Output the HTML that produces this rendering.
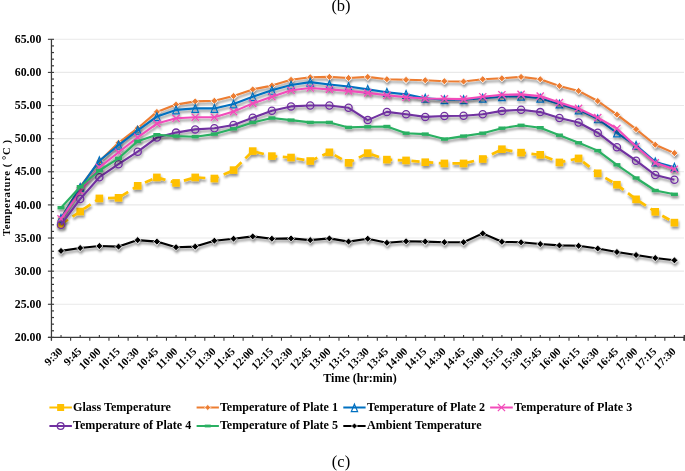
<!DOCTYPE html><html><head><meta charset="utf-8"><style>html,body{margin:0;padding:0;background:#fff;}svg{display:block;will-change:transform;}text{font-family:"Liberation Serif",serif;}</style></head><body>
<svg width="685" height="471" viewBox="0 0 685 471">
<defs><filter id="sh" x="-5%" y="-20%" width="110%" height="140%"><feDropShadow dx="0.8" dy="2.4" stdDeviation="1.3" flood-color="#000" flood-opacity="0.42"/></filter></defs>
<rect width="685" height="471" fill="#fff"/>
<text x="341" y="11" font-size="16.5" text-anchor="middle" fill="#000">(b)</text>
<line x1="51.45" y1="39.3" x2="684" y2="39.3" stroke="#E9E9E9" stroke-width="1.1"/>
<line x1="51.45" y1="72.42" x2="684" y2="72.42" stroke="#E9E9E9" stroke-width="1.1"/>
<line x1="51.45" y1="105.54" x2="684" y2="105.54" stroke="#E9E9E9" stroke-width="1.1"/>
<line x1="51.45" y1="138.67" x2="684" y2="138.67" stroke="#E9E9E9" stroke-width="1.1"/>
<line x1="51.45" y1="171.79" x2="684" y2="171.79" stroke="#E9E9E9" stroke-width="1.1"/>
<line x1="51.45" y1="204.91" x2="684" y2="204.91" stroke="#E9E9E9" stroke-width="1.1"/>
<line x1="51.45" y1="238.03" x2="684" y2="238.03" stroke="#E9E9E9" stroke-width="1.1"/>
<line x1="51.45" y1="271.16" x2="684" y2="271.16" stroke="#E9E9E9" stroke-width="1.1"/>
<line x1="51.45" y1="304.28" x2="684" y2="304.28" stroke="#E9E9E9" stroke-width="1.1"/>
<line x1="51.45" y1="39.3" x2="51.45" y2="340.6" stroke="#3a3a3a" stroke-width="1.25"/>
<line x1="47.9" y1="39.3" x2="54" y2="39.3" stroke="#3a3a3a" stroke-width="1.1"/>
<line x1="47.9" y1="72.42" x2="54" y2="72.42" stroke="#3a3a3a" stroke-width="1.1"/>
<line x1="47.9" y1="105.54" x2="54" y2="105.54" stroke="#3a3a3a" stroke-width="1.1"/>
<line x1="47.9" y1="138.67" x2="54" y2="138.67" stroke="#3a3a3a" stroke-width="1.1"/>
<line x1="47.9" y1="171.79" x2="54" y2="171.79" stroke="#3a3a3a" stroke-width="1.1"/>
<line x1="47.9" y1="204.91" x2="54" y2="204.91" stroke="#3a3a3a" stroke-width="1.1"/>
<line x1="47.9" y1="238.03" x2="54" y2="238.03" stroke="#3a3a3a" stroke-width="1.1"/>
<line x1="47.9" y1="271.16" x2="54" y2="271.16" stroke="#3a3a3a" stroke-width="1.1"/>
<line x1="47.9" y1="304.28" x2="54" y2="304.28" stroke="#3a3a3a" stroke-width="1.1"/>
<line x1="47.9" y1="337.4" x2="54" y2="337.4" stroke="#3a3a3a" stroke-width="1.1"/>
<line x1="51.45" y1="45.92" x2="54" y2="45.92" stroke="#3a3a3a" stroke-width="1.2"/>
<line x1="51.45" y1="52.55" x2="54" y2="52.55" stroke="#3a3a3a" stroke-width="1.2"/>
<line x1="51.45" y1="59.17" x2="54" y2="59.17" stroke="#3a3a3a" stroke-width="1.2"/>
<line x1="51.45" y1="65.8" x2="54" y2="65.8" stroke="#3a3a3a" stroke-width="1.2"/>
<line x1="51.45" y1="79.05" x2="54" y2="79.05" stroke="#3a3a3a" stroke-width="1.2"/>
<line x1="51.45" y1="85.67" x2="54" y2="85.67" stroke="#3a3a3a" stroke-width="1.2"/>
<line x1="51.45" y1="92.3" x2="54" y2="92.3" stroke="#3a3a3a" stroke-width="1.2"/>
<line x1="51.45" y1="98.92" x2="54" y2="98.92" stroke="#3a3a3a" stroke-width="1.2"/>
<line x1="51.45" y1="112.17" x2="54" y2="112.17" stroke="#3a3a3a" stroke-width="1.2"/>
<line x1="51.45" y1="118.79" x2="54" y2="118.79" stroke="#3a3a3a" stroke-width="1.2"/>
<line x1="51.45" y1="125.42" x2="54" y2="125.42" stroke="#3a3a3a" stroke-width="1.2"/>
<line x1="51.45" y1="132.04" x2="54" y2="132.04" stroke="#3a3a3a" stroke-width="1.2"/>
<line x1="51.45" y1="145.29" x2="54" y2="145.29" stroke="#3a3a3a" stroke-width="1.2"/>
<line x1="51.45" y1="151.92" x2="54" y2="151.92" stroke="#3a3a3a" stroke-width="1.2"/>
<line x1="51.45" y1="158.54" x2="54" y2="158.54" stroke="#3a3a3a" stroke-width="1.2"/>
<line x1="51.45" y1="165.16" x2="54" y2="165.16" stroke="#3a3a3a" stroke-width="1.2"/>
<line x1="51.45" y1="178.41" x2="54" y2="178.41" stroke="#3a3a3a" stroke-width="1.2"/>
<line x1="51.45" y1="185.04" x2="54" y2="185.04" stroke="#3a3a3a" stroke-width="1.2"/>
<line x1="51.45" y1="191.66" x2="54" y2="191.66" stroke="#3a3a3a" stroke-width="1.2"/>
<line x1="51.45" y1="198.29" x2="54" y2="198.29" stroke="#3a3a3a" stroke-width="1.2"/>
<line x1="51.45" y1="211.54" x2="54" y2="211.54" stroke="#3a3a3a" stroke-width="1.2"/>
<line x1="51.45" y1="218.16" x2="54" y2="218.16" stroke="#3a3a3a" stroke-width="1.2"/>
<line x1="51.45" y1="224.78" x2="54" y2="224.78" stroke="#3a3a3a" stroke-width="1.2"/>
<line x1="51.45" y1="231.41" x2="54" y2="231.41" stroke="#3a3a3a" stroke-width="1.2"/>
<line x1="51.45" y1="244.66" x2="54" y2="244.66" stroke="#3a3a3a" stroke-width="1.2"/>
<line x1="51.45" y1="251.28" x2="54" y2="251.28" stroke="#3a3a3a" stroke-width="1.2"/>
<line x1="51.45" y1="257.91" x2="54" y2="257.91" stroke="#3a3a3a" stroke-width="1.2"/>
<line x1="51.45" y1="264.53" x2="54" y2="264.53" stroke="#3a3a3a" stroke-width="1.2"/>
<line x1="51.45" y1="277.78" x2="54" y2="277.78" stroke="#3a3a3a" stroke-width="1.2"/>
<line x1="51.45" y1="284.4" x2="54" y2="284.4" stroke="#3a3a3a" stroke-width="1.2"/>
<line x1="51.45" y1="291.03" x2="54" y2="291.03" stroke="#3a3a3a" stroke-width="1.2"/>
<line x1="51.45" y1="297.65" x2="54" y2="297.65" stroke="#3a3a3a" stroke-width="1.2"/>
<line x1="51.45" y1="310.9" x2="54" y2="310.9" stroke="#3a3a3a" stroke-width="1.2"/>
<line x1="51.45" y1="317.53" x2="54" y2="317.53" stroke="#3a3a3a" stroke-width="1.2"/>
<line x1="51.45" y1="324.15" x2="54" y2="324.15" stroke="#3a3a3a" stroke-width="1.2"/>
<line x1="51.45" y1="330.78" x2="54" y2="330.78" stroke="#3a3a3a" stroke-width="1.2"/>
<line x1="47.95" y1="337.4" x2="685" y2="337.4" stroke="#3a3a3a" stroke-width="1.25"/>
<line x1="51.45" y1="337.4" x2="51.45" y2="340.7" stroke="#3a3a3a" stroke-width="1.1"/>
<line x1="70.62" y1="337.4" x2="70.62" y2="340.7" stroke="#3a3a3a" stroke-width="1.1"/>
<line x1="89.79" y1="337.4" x2="89.79" y2="340.7" stroke="#3a3a3a" stroke-width="1.1"/>
<line x1="108.95" y1="337.4" x2="108.95" y2="340.7" stroke="#3a3a3a" stroke-width="1.1"/>
<line x1="128.12" y1="337.4" x2="128.12" y2="340.7" stroke="#3a3a3a" stroke-width="1.1"/>
<line x1="147.29" y1="337.4" x2="147.29" y2="340.7" stroke="#3a3a3a" stroke-width="1.1"/>
<line x1="166.46" y1="337.4" x2="166.46" y2="340.7" stroke="#3a3a3a" stroke-width="1.1"/>
<line x1="185.63" y1="337.4" x2="185.63" y2="340.7" stroke="#3a3a3a" stroke-width="1.1"/>
<line x1="204.8" y1="337.4" x2="204.8" y2="340.7" stroke="#3a3a3a" stroke-width="1.1"/>
<line x1="223.96" y1="337.4" x2="223.96" y2="340.7" stroke="#3a3a3a" stroke-width="1.1"/>
<line x1="243.13" y1="337.4" x2="243.13" y2="340.7" stroke="#3a3a3a" stroke-width="1.1"/>
<line x1="262.3" y1="337.4" x2="262.3" y2="340.7" stroke="#3a3a3a" stroke-width="1.1"/>
<line x1="281.47" y1="337.4" x2="281.47" y2="340.7" stroke="#3a3a3a" stroke-width="1.1"/>
<line x1="300.64" y1="337.4" x2="300.64" y2="340.7" stroke="#3a3a3a" stroke-width="1.1"/>
<line x1="319.8" y1="337.4" x2="319.8" y2="340.7" stroke="#3a3a3a" stroke-width="1.1"/>
<line x1="338.97" y1="337.4" x2="338.97" y2="340.7" stroke="#3a3a3a" stroke-width="1.1"/>
<line x1="358.14" y1="337.4" x2="358.14" y2="340.7" stroke="#3a3a3a" stroke-width="1.1"/>
<line x1="377.31" y1="337.4" x2="377.31" y2="340.7" stroke="#3a3a3a" stroke-width="1.1"/>
<line x1="396.48" y1="337.4" x2="396.48" y2="340.7" stroke="#3a3a3a" stroke-width="1.1"/>
<line x1="415.65" y1="337.4" x2="415.65" y2="340.7" stroke="#3a3a3a" stroke-width="1.1"/>
<line x1="434.81" y1="337.4" x2="434.81" y2="340.7" stroke="#3a3a3a" stroke-width="1.1"/>
<line x1="453.98" y1="337.4" x2="453.98" y2="340.7" stroke="#3a3a3a" stroke-width="1.1"/>
<line x1="473.15" y1="337.4" x2="473.15" y2="340.7" stroke="#3a3a3a" stroke-width="1.1"/>
<line x1="492.32" y1="337.4" x2="492.32" y2="340.7" stroke="#3a3a3a" stroke-width="1.1"/>
<line x1="511.49" y1="337.4" x2="511.49" y2="340.7" stroke="#3a3a3a" stroke-width="1.1"/>
<line x1="530.65" y1="337.4" x2="530.65" y2="340.7" stroke="#3a3a3a" stroke-width="1.1"/>
<line x1="549.82" y1="337.4" x2="549.82" y2="340.7" stroke="#3a3a3a" stroke-width="1.1"/>
<line x1="568.99" y1="337.4" x2="568.99" y2="340.7" stroke="#3a3a3a" stroke-width="1.1"/>
<line x1="588.16" y1="337.4" x2="588.16" y2="340.7" stroke="#3a3a3a" stroke-width="1.1"/>
<line x1="607.33" y1="337.4" x2="607.33" y2="340.7" stroke="#3a3a3a" stroke-width="1.1"/>
<line x1="626.5" y1="337.4" x2="626.5" y2="340.7" stroke="#3a3a3a" stroke-width="1.1"/>
<line x1="645.66" y1="337.4" x2="645.66" y2="340.7" stroke="#3a3a3a" stroke-width="1.1"/>
<line x1="664.83" y1="337.4" x2="664.83" y2="340.7" stroke="#3a3a3a" stroke-width="1.1"/>
<line x1="684" y1="337.4" x2="684" y2="340.7" stroke="#3a3a3a" stroke-width="1.1"/>
<line x1="61.03" y1="334.9" x2="61.03" y2="337.4" stroke="#3a3a3a" stroke-width="1.1"/>
<line x1="80.2" y1="334.9" x2="80.2" y2="337.4" stroke="#3a3a3a" stroke-width="1.1"/>
<line x1="99.37" y1="334.9" x2="99.37" y2="337.4" stroke="#3a3a3a" stroke-width="1.1"/>
<line x1="118.54" y1="334.9" x2="118.54" y2="337.4" stroke="#3a3a3a" stroke-width="1.1"/>
<line x1="137.71" y1="334.9" x2="137.71" y2="337.4" stroke="#3a3a3a" stroke-width="1.1"/>
<line x1="156.88" y1="334.9" x2="156.88" y2="337.4" stroke="#3a3a3a" stroke-width="1.1"/>
<line x1="176.04" y1="334.9" x2="176.04" y2="337.4" stroke="#3a3a3a" stroke-width="1.1"/>
<line x1="195.21" y1="334.9" x2="195.21" y2="337.4" stroke="#3a3a3a" stroke-width="1.1"/>
<line x1="214.38" y1="334.9" x2="214.38" y2="337.4" stroke="#3a3a3a" stroke-width="1.1"/>
<line x1="233.55" y1="334.9" x2="233.55" y2="337.4" stroke="#3a3a3a" stroke-width="1.1"/>
<line x1="252.72" y1="334.9" x2="252.72" y2="337.4" stroke="#3a3a3a" stroke-width="1.1"/>
<line x1="271.88" y1="334.9" x2="271.88" y2="337.4" stroke="#3a3a3a" stroke-width="1.1"/>
<line x1="291.05" y1="334.9" x2="291.05" y2="337.4" stroke="#3a3a3a" stroke-width="1.1"/>
<line x1="310.22" y1="334.9" x2="310.22" y2="337.4" stroke="#3a3a3a" stroke-width="1.1"/>
<line x1="329.39" y1="334.9" x2="329.39" y2="337.4" stroke="#3a3a3a" stroke-width="1.1"/>
<line x1="348.56" y1="334.9" x2="348.56" y2="337.4" stroke="#3a3a3a" stroke-width="1.1"/>
<line x1="367.72" y1="334.9" x2="367.72" y2="337.4" stroke="#3a3a3a" stroke-width="1.1"/>
<line x1="386.89" y1="334.9" x2="386.89" y2="337.4" stroke="#3a3a3a" stroke-width="1.1"/>
<line x1="406.06" y1="334.9" x2="406.06" y2="337.4" stroke="#3a3a3a" stroke-width="1.1"/>
<line x1="425.23" y1="334.9" x2="425.23" y2="337.4" stroke="#3a3a3a" stroke-width="1.1"/>
<line x1="444.4" y1="334.9" x2="444.4" y2="337.4" stroke="#3a3a3a" stroke-width="1.1"/>
<line x1="463.57" y1="334.9" x2="463.57" y2="337.4" stroke="#3a3a3a" stroke-width="1.1"/>
<line x1="482.73" y1="334.9" x2="482.73" y2="337.4" stroke="#3a3a3a" stroke-width="1.1"/>
<line x1="501.9" y1="334.9" x2="501.9" y2="337.4" stroke="#3a3a3a" stroke-width="1.1"/>
<line x1="521.07" y1="334.9" x2="521.07" y2="337.4" stroke="#3a3a3a" stroke-width="1.1"/>
<line x1="540.24" y1="334.9" x2="540.24" y2="337.4" stroke="#3a3a3a" stroke-width="1.1"/>
<line x1="559.41" y1="334.9" x2="559.41" y2="337.4" stroke="#3a3a3a" stroke-width="1.1"/>
<line x1="578.58" y1="334.9" x2="578.58" y2="337.4" stroke="#3a3a3a" stroke-width="1.1"/>
<line x1="597.74" y1="334.9" x2="597.74" y2="337.4" stroke="#3a3a3a" stroke-width="1.1"/>
<line x1="616.91" y1="334.9" x2="616.91" y2="337.4" stroke="#3a3a3a" stroke-width="1.1"/>
<line x1="636.08" y1="334.9" x2="636.08" y2="337.4" stroke="#3a3a3a" stroke-width="1.1"/>
<line x1="655.25" y1="334.9" x2="655.25" y2="337.4" stroke="#3a3a3a" stroke-width="1.1"/>
<line x1="674.42" y1="334.9" x2="674.42" y2="337.4" stroke="#3a3a3a" stroke-width="1.1"/>
<line x1="684.3" y1="335" x2="684.3" y2="340.8" stroke="#3a3a3a" stroke-width="1.4"/>
<text x="41.3" y="43" font-size="11.8" font-weight="bold" text-anchor="end" fill="#000">65.00</text>
<text x="41.3" y="76.12" font-size="11.8" font-weight="bold" text-anchor="end" fill="#000">60.00</text>
<text x="41.3" y="109.24" font-size="11.8" font-weight="bold" text-anchor="end" fill="#000">55.00</text>
<text x="41.3" y="142.37" font-size="11.8" font-weight="bold" text-anchor="end" fill="#000">50.00</text>
<text x="41.3" y="175.49" font-size="11.8" font-weight="bold" text-anchor="end" fill="#000">45.00</text>
<text x="41.3" y="208.61" font-size="11.8" font-weight="bold" text-anchor="end" fill="#000">40.00</text>
<text x="41.3" y="241.73" font-size="11.8" font-weight="bold" text-anchor="end" fill="#000">35.00</text>
<text x="41.3" y="274.86" font-size="11.8" font-weight="bold" text-anchor="end" fill="#000">30.00</text>
<text x="41.3" y="307.98" font-size="11.8" font-weight="bold" text-anchor="end" fill="#000">25.00</text>
<text x="41.3" y="341.1" font-size="11.8" font-weight="bold" text-anchor="end" fill="#000">20.00</text>
<text transform="translate(63.03 352) rotate(-45)" font-size="11" font-weight="bold" text-anchor="end" fill="#000">9:30</text>
<text transform="translate(82.2 352) rotate(-45)" font-size="11" font-weight="bold" text-anchor="end" fill="#000">9:45</text>
<text transform="translate(101.37 352) rotate(-45)" font-size="11" font-weight="bold" text-anchor="end" fill="#000">10:00</text>
<text transform="translate(120.54 352) rotate(-45)" font-size="11" font-weight="bold" text-anchor="end" fill="#000">10:15</text>
<text transform="translate(139.71 352) rotate(-45)" font-size="11" font-weight="bold" text-anchor="end" fill="#000">10:30</text>
<text transform="translate(158.88 352) rotate(-45)" font-size="11" font-weight="bold" text-anchor="end" fill="#000">10:45</text>
<text transform="translate(178.04 352) rotate(-45)" font-size="11" font-weight="bold" text-anchor="end" fill="#000">11:00</text>
<text transform="translate(197.21 352) rotate(-45)" font-size="11" font-weight="bold" text-anchor="end" fill="#000">11:15</text>
<text transform="translate(216.38 352) rotate(-45)" font-size="11" font-weight="bold" text-anchor="end" fill="#000">11:30</text>
<text transform="translate(235.55 352) rotate(-45)" font-size="11" font-weight="bold" text-anchor="end" fill="#000">11:45</text>
<text transform="translate(254.72 352) rotate(-45)" font-size="11" font-weight="bold" text-anchor="end" fill="#000">12:00</text>
<text transform="translate(273.88 352) rotate(-45)" font-size="11" font-weight="bold" text-anchor="end" fill="#000">12:15</text>
<text transform="translate(293.05 352) rotate(-45)" font-size="11" font-weight="bold" text-anchor="end" fill="#000">12:30</text>
<text transform="translate(312.22 352) rotate(-45)" font-size="11" font-weight="bold" text-anchor="end" fill="#000">12:45</text>
<text transform="translate(331.39 352) rotate(-45)" font-size="11" font-weight="bold" text-anchor="end" fill="#000">13:00</text>
<text transform="translate(350.56 352) rotate(-45)" font-size="11" font-weight="bold" text-anchor="end" fill="#000">13:15</text>
<text transform="translate(369.72 352) rotate(-45)" font-size="11" font-weight="bold" text-anchor="end" fill="#000">13:30</text>
<text transform="translate(388.89 352) rotate(-45)" font-size="11" font-weight="bold" text-anchor="end" fill="#000">13:45</text>
<text transform="translate(408.06 352) rotate(-45)" font-size="11" font-weight="bold" text-anchor="end" fill="#000">14:00</text>
<text transform="translate(427.23 352) rotate(-45)" font-size="11" font-weight="bold" text-anchor="end" fill="#000">14:15</text>
<text transform="translate(446.4 352) rotate(-45)" font-size="11" font-weight="bold" text-anchor="end" fill="#000">14:30</text>
<text transform="translate(465.57 352) rotate(-45)" font-size="11" font-weight="bold" text-anchor="end" fill="#000">14:45</text>
<text transform="translate(484.73 352) rotate(-45)" font-size="11" font-weight="bold" text-anchor="end" fill="#000">15:00</text>
<text transform="translate(503.9 352) rotate(-45)" font-size="11" font-weight="bold" text-anchor="end" fill="#000">15:15</text>
<text transform="translate(523.07 352) rotate(-45)" font-size="11" font-weight="bold" text-anchor="end" fill="#000">15:30</text>
<text transform="translate(542.24 352) rotate(-45)" font-size="11" font-weight="bold" text-anchor="end" fill="#000">15:45</text>
<text transform="translate(561.41 352) rotate(-45)" font-size="11" font-weight="bold" text-anchor="end" fill="#000">16:00</text>
<text transform="translate(580.58 352) rotate(-45)" font-size="11" font-weight="bold" text-anchor="end" fill="#000">16:15</text>
<text transform="translate(599.74 352) rotate(-45)" font-size="11" font-weight="bold" text-anchor="end" fill="#000">16:30</text>
<text transform="translate(618.91 352) rotate(-45)" font-size="11" font-weight="bold" text-anchor="end" fill="#000">16:45</text>
<text transform="translate(638.08 352) rotate(-45)" font-size="11" font-weight="bold" text-anchor="end" fill="#000">17:00</text>
<text transform="translate(657.25 352) rotate(-45)" font-size="11" font-weight="bold" text-anchor="end" fill="#000">17:15</text>
<text transform="translate(676.42 352) rotate(-45)" font-size="11" font-weight="bold" text-anchor="end" fill="#000">17:30</text>
<text x="360" y="381.6" font-size="12" font-weight="bold" text-anchor="middle" fill="#000">Time (hr:min)</text>
<text transform="translate(9.6 188) rotate(-90)" font-size="10.6" textLength="96" lengthAdjust="spacing" font-weight="bold" text-anchor="middle" fill="#000">Temperature ( °C )</text>
<g filter="url(#sh)">
<path d="M61.03 224.1 L80.2 211.5 L99.37 198.4 L118.54 197.8 L137.71 185.8 L156.88 177.4 L176.04 182.9 L195.21 177.4 L214.38 178.5 L233.55 170.1 L252.72 151.1 L271.88 156.1 L291.05 157.5 L310.22 161 L329.39 152.3 L348.56 162.8 L367.72 153.1 L386.89 159.6 L406.06 160.4 L425.23 162.2 L444.4 163.4 L463.57 163.4 L482.73 159 L501.9 149.2 L521.07 152.6 L540.24 154.8 L559.41 162.4 L578.58 158.4 L597.74 173.3 L616.91 184.7 L636.08 199.3 L655.25 211.8 L674.42 222.6" fill="none" stroke="#FFC000" stroke-width="2.7" stroke-linejoin="round" stroke-dasharray="8.2 5.5"/>
<rect x="57.23" y="220.3" width="7.6" height="7.6" fill="#FFC000"/>
<rect x="76.4" y="207.7" width="7.6" height="7.6" fill="#FFC000"/>
<rect x="95.57" y="194.6" width="7.6" height="7.6" fill="#FFC000"/>
<rect x="114.74" y="194" width="7.6" height="7.6" fill="#FFC000"/>
<rect x="133.91" y="182" width="7.6" height="7.6" fill="#FFC000"/>
<rect x="153.07" y="173.6" width="7.6" height="7.6" fill="#FFC000"/>
<rect x="172.24" y="179.1" width="7.6" height="7.6" fill="#FFC000"/>
<rect x="191.41" y="173.6" width="7.6" height="7.6" fill="#FFC000"/>
<rect x="210.58" y="174.7" width="7.6" height="7.6" fill="#FFC000"/>
<rect x="229.75" y="166.3" width="7.6" height="7.6" fill="#FFC000"/>
<rect x="248.92" y="147.3" width="7.6" height="7.6" fill="#FFC000"/>
<rect x="268.08" y="152.3" width="7.6" height="7.6" fill="#FFC000"/>
<rect x="287.25" y="153.7" width="7.6" height="7.6" fill="#FFC000"/>
<rect x="306.42" y="157.2" width="7.6" height="7.6" fill="#FFC000"/>
<rect x="325.59" y="148.5" width="7.6" height="7.6" fill="#FFC000"/>
<rect x="344.76" y="159" width="7.6" height="7.6" fill="#FFC000"/>
<rect x="363.92" y="149.3" width="7.6" height="7.6" fill="#FFC000"/>
<rect x="383.09" y="155.8" width="7.6" height="7.6" fill="#FFC000"/>
<rect x="402.26" y="156.6" width="7.6" height="7.6" fill="#FFC000"/>
<rect x="421.43" y="158.4" width="7.6" height="7.6" fill="#FFC000"/>
<rect x="440.6" y="159.6" width="7.6" height="7.6" fill="#FFC000"/>
<rect x="459.77" y="159.6" width="7.6" height="7.6" fill="#FFC000"/>
<rect x="478.93" y="155.2" width="7.6" height="7.6" fill="#FFC000"/>
<rect x="498.1" y="145.4" width="7.6" height="7.6" fill="#FFC000"/>
<rect x="517.27" y="148.8" width="7.6" height="7.6" fill="#FFC000"/>
<rect x="536.44" y="151" width="7.6" height="7.6" fill="#FFC000"/>
<rect x="555.61" y="158.6" width="7.6" height="7.6" fill="#FFC000"/>
<rect x="574.78" y="154.6" width="7.6" height="7.6" fill="#FFC000"/>
<rect x="593.94" y="169.5" width="7.6" height="7.6" fill="#FFC000"/>
<rect x="613.11" y="180.9" width="7.6" height="7.6" fill="#FFC000"/>
<rect x="632.28" y="195.5" width="7.6" height="7.6" fill="#FFC000"/>
<rect x="651.45" y="208" width="7.6" height="7.6" fill="#FFC000"/>
<rect x="670.62" y="218.8" width="7.6" height="7.6" fill="#FFC000"/>
</g><g filter="url(#sh)">
<path d="M61.03 218 L80.2 187 L99.37 161.2 L118.54 142.8 L137.71 128.2 L156.88 111.9 L176.04 104.6 L195.21 101.4 L214.38 100.8 L233.55 96.1 L252.72 89.4 L271.88 85.6 L291.05 79.8 L310.22 77.2 L329.39 76.9 L348.56 78 L367.72 76.9 L386.89 79.2 L406.06 79.8 L425.23 80.2 L444.4 81.2 L463.57 81.5 L482.73 79.2 L501.9 78.3 L521.07 76.9 L540.24 79.2 L559.41 85.9 L578.58 90.9 L597.74 101 L616.91 114.6 L636.08 129.2 L655.25 144.7 L674.42 153.1" fill="none" stroke="#ED7D31" stroke-width="2.1" stroke-linejoin="round"/>
<path d="M61.03 214.5L64.53 218L61.03 221.5L57.53 218Z" fill="#ED7D31" stroke="#fff" stroke-width="0.8"/>
<path d="M80.2 183.5L83.7 187L80.2 190.5L76.7 187Z" fill="#ED7D31" stroke="#fff" stroke-width="0.8"/>
<path d="M99.37 157.7L102.87 161.2L99.37 164.7L95.87 161.2Z" fill="#ED7D31" stroke="#fff" stroke-width="0.8"/>
<path d="M118.54 139.3L122.04 142.8L118.54 146.3L115.04 142.8Z" fill="#ED7D31" stroke="#fff" stroke-width="0.8"/>
<path d="M137.71 124.7L141.21 128.2L137.71 131.7L134.21 128.2Z" fill="#ED7D31" stroke="#fff" stroke-width="0.8"/>
<path d="M156.88 108.4L160.38 111.9L156.88 115.4L153.38 111.9Z" fill="#ED7D31" stroke="#fff" stroke-width="0.8"/>
<path d="M176.04 101.1L179.54 104.6L176.04 108.1L172.54 104.6Z" fill="#ED7D31" stroke="#fff" stroke-width="0.8"/>
<path d="M195.21 97.9L198.71 101.4L195.21 104.9L191.71 101.4Z" fill="#ED7D31" stroke="#fff" stroke-width="0.8"/>
<path d="M214.38 97.3L217.88 100.8L214.38 104.3L210.88 100.8Z" fill="#ED7D31" stroke="#fff" stroke-width="0.8"/>
<path d="M233.55 92.6L237.05 96.1L233.55 99.6L230.05 96.1Z" fill="#ED7D31" stroke="#fff" stroke-width="0.8"/>
<path d="M252.72 85.9L256.22 89.4L252.72 92.9L249.22 89.4Z" fill="#ED7D31" stroke="#fff" stroke-width="0.8"/>
<path d="M271.88 82.1L275.38 85.6L271.88 89.1L268.38 85.6Z" fill="#ED7D31" stroke="#fff" stroke-width="0.8"/>
<path d="M291.05 76.3L294.55 79.8L291.05 83.3L287.55 79.8Z" fill="#ED7D31" stroke="#fff" stroke-width="0.8"/>
<path d="M310.22 73.7L313.72 77.2L310.22 80.7L306.72 77.2Z" fill="#ED7D31" stroke="#fff" stroke-width="0.8"/>
<path d="M329.39 73.4L332.89 76.9L329.39 80.4L325.89 76.9Z" fill="#ED7D31" stroke="#fff" stroke-width="0.8"/>
<path d="M348.56 74.5L352.06 78L348.56 81.5L345.06 78Z" fill="#ED7D31" stroke="#fff" stroke-width="0.8"/>
<path d="M367.72 73.4L371.22 76.9L367.72 80.4L364.22 76.9Z" fill="#ED7D31" stroke="#fff" stroke-width="0.8"/>
<path d="M386.89 75.7L390.39 79.2L386.89 82.7L383.39 79.2Z" fill="#ED7D31" stroke="#fff" stroke-width="0.8"/>
<path d="M406.06 76.3L409.56 79.8L406.06 83.3L402.56 79.8Z" fill="#ED7D31" stroke="#fff" stroke-width="0.8"/>
<path d="M425.23 76.7L428.73 80.2L425.23 83.7L421.73 80.2Z" fill="#ED7D31" stroke="#fff" stroke-width="0.8"/>
<path d="M444.4 77.7L447.9 81.2L444.4 84.7L440.9 81.2Z" fill="#ED7D31" stroke="#fff" stroke-width="0.8"/>
<path d="M463.57 78L467.07 81.5L463.57 85L460.07 81.5Z" fill="#ED7D31" stroke="#fff" stroke-width="0.8"/>
<path d="M482.73 75.7L486.23 79.2L482.73 82.7L479.23 79.2Z" fill="#ED7D31" stroke="#fff" stroke-width="0.8"/>
<path d="M501.9 74.8L505.4 78.3L501.9 81.8L498.4 78.3Z" fill="#ED7D31" stroke="#fff" stroke-width="0.8"/>
<path d="M521.07 73.4L524.57 76.9L521.07 80.4L517.57 76.9Z" fill="#ED7D31" stroke="#fff" stroke-width="0.8"/>
<path d="M540.24 75.7L543.74 79.2L540.24 82.7L536.74 79.2Z" fill="#ED7D31" stroke="#fff" stroke-width="0.8"/>
<path d="M559.41 82.4L562.91 85.9L559.41 89.4L555.91 85.9Z" fill="#ED7D31" stroke="#fff" stroke-width="0.8"/>
<path d="M578.58 87.4L582.08 90.9L578.58 94.4L575.08 90.9Z" fill="#ED7D31" stroke="#fff" stroke-width="0.8"/>
<path d="M597.74 97.5L601.24 101L597.74 104.5L594.24 101Z" fill="#ED7D31" stroke="#fff" stroke-width="0.8"/>
<path d="M616.91 111.1L620.41 114.6L616.91 118.1L613.41 114.6Z" fill="#ED7D31" stroke="#fff" stroke-width="0.8"/>
<path d="M636.08 125.7L639.58 129.2L636.08 132.7L632.58 129.2Z" fill="#ED7D31" stroke="#fff" stroke-width="0.8"/>
<path d="M655.25 141.2L658.75 144.7L655.25 148.2L651.75 144.7Z" fill="#ED7D31" stroke="#fff" stroke-width="0.8"/>
<path d="M674.42 149.6L677.92 153.1L674.42 156.6L670.92 153.1Z" fill="#ED7D31" stroke="#fff" stroke-width="0.8"/>
</g><g filter="url(#sh)">
<path d="M61.03 218.2 L80.2 187.3 L99.37 160.7 L118.54 145.1 L137.71 130.3 L156.88 116.6 L176.04 109.9 L195.21 108.4 L214.38 108.4 L233.55 104 L252.72 96.7 L271.88 90.3 L291.05 85 L310.22 82.1 L329.39 84.5 L348.56 86.5 L367.72 89.4 L386.89 92.3 L406.06 94.4 L425.23 98.2 L444.4 99.6 L463.57 99.6 L482.73 98.2 L501.9 96.7 L521.07 96.1 L540.24 98.2 L559.41 104 L578.58 109.9 L597.74 118.8 L616.91 133 L636.08 145.3 L655.25 161.9 L674.42 167.2" fill="none" stroke="#0070C0" stroke-width="2.1" stroke-linejoin="round"/>
<path d="M61.03 214.37L64.33 222.16L57.73 222.16Z" fill="none" stroke="#0070C0" stroke-width="1.2" stroke-linejoin="miter"/>
<path d="M80.2 183.47L83.5 191.26L76.9 191.26Z" fill="none" stroke="#0070C0" stroke-width="1.2" stroke-linejoin="miter"/>
<path d="M99.37 156.87L102.67 164.66L96.07 164.66Z" fill="none" stroke="#0070C0" stroke-width="1.2" stroke-linejoin="miter"/>
<path d="M118.54 141.27L121.84 149.06L115.24 149.06Z" fill="none" stroke="#0070C0" stroke-width="1.2" stroke-linejoin="miter"/>
<path d="M137.71 126.47L141.01 134.26L134.41 134.26Z" fill="none" stroke="#0070C0" stroke-width="1.2" stroke-linejoin="miter"/>
<path d="M156.88 112.77L160.18 120.56L153.57 120.56Z" fill="none" stroke="#0070C0" stroke-width="1.2" stroke-linejoin="miter"/>
<path d="M176.04 106.07L179.34 113.86L172.74 113.86Z" fill="none" stroke="#0070C0" stroke-width="1.2" stroke-linejoin="miter"/>
<path d="M195.21 104.57L198.51 112.36L191.91 112.36Z" fill="none" stroke="#0070C0" stroke-width="1.2" stroke-linejoin="miter"/>
<path d="M214.38 104.57L217.68 112.36L211.08 112.36Z" fill="none" stroke="#0070C0" stroke-width="1.2" stroke-linejoin="miter"/>
<path d="M233.55 100.17L236.85 107.96L230.25 107.96Z" fill="none" stroke="#0070C0" stroke-width="1.2" stroke-linejoin="miter"/>
<path d="M252.72 92.87L256.02 100.66L249.42 100.66Z" fill="none" stroke="#0070C0" stroke-width="1.2" stroke-linejoin="miter"/>
<path d="M271.88 86.47L275.18 94.26L268.58 94.26Z" fill="none" stroke="#0070C0" stroke-width="1.2" stroke-linejoin="miter"/>
<path d="M291.05 81.17L294.35 88.96L287.75 88.96Z" fill="none" stroke="#0070C0" stroke-width="1.2" stroke-linejoin="miter"/>
<path d="M310.22 78.27L313.52 86.06L306.92 86.06Z" fill="none" stroke="#0070C0" stroke-width="1.2" stroke-linejoin="miter"/>
<path d="M329.39 80.67L332.69 88.46L326.09 88.46Z" fill="none" stroke="#0070C0" stroke-width="1.2" stroke-linejoin="miter"/>
<path d="M348.56 82.67L351.86 90.46L345.26 90.46Z" fill="none" stroke="#0070C0" stroke-width="1.2" stroke-linejoin="miter"/>
<path d="M367.72 85.57L371.02 93.36L364.42 93.36Z" fill="none" stroke="#0070C0" stroke-width="1.2" stroke-linejoin="miter"/>
<path d="M386.89 88.47L390.19 96.26L383.59 96.26Z" fill="none" stroke="#0070C0" stroke-width="1.2" stroke-linejoin="miter"/>
<path d="M406.06 90.57L409.36 98.36L402.76 98.36Z" fill="none" stroke="#0070C0" stroke-width="1.2" stroke-linejoin="miter"/>
<path d="M425.23 94.37L428.53 102.16L421.93 102.16Z" fill="none" stroke="#0070C0" stroke-width="1.2" stroke-linejoin="miter"/>
<path d="M444.4 95.77L447.7 103.56L441.1 103.56Z" fill="none" stroke="#0070C0" stroke-width="1.2" stroke-linejoin="miter"/>
<path d="M463.57 95.77L466.87 103.56L460.27 103.56Z" fill="none" stroke="#0070C0" stroke-width="1.2" stroke-linejoin="miter"/>
<path d="M482.73 94.37L486.03 102.16L479.43 102.16Z" fill="none" stroke="#0070C0" stroke-width="1.2" stroke-linejoin="miter"/>
<path d="M501.9 92.87L505.2 100.66L498.6 100.66Z" fill="none" stroke="#0070C0" stroke-width="1.2" stroke-linejoin="miter"/>
<path d="M521.07 92.27L524.37 100.06L517.77 100.06Z" fill="none" stroke="#0070C0" stroke-width="1.2" stroke-linejoin="miter"/>
<path d="M540.24 94.37L543.54 102.16L536.94 102.16Z" fill="none" stroke="#0070C0" stroke-width="1.2" stroke-linejoin="miter"/>
<path d="M559.41 100.17L562.71 107.96L556.11 107.96Z" fill="none" stroke="#0070C0" stroke-width="1.2" stroke-linejoin="miter"/>
<path d="M578.58 106.07L581.88 113.86L575.28 113.86Z" fill="none" stroke="#0070C0" stroke-width="1.2" stroke-linejoin="miter"/>
<path d="M597.74 114.97L601.04 122.76L594.44 122.76Z" fill="none" stroke="#0070C0" stroke-width="1.2" stroke-linejoin="miter"/>
<path d="M616.91 129.17L620.21 136.96L613.61 136.96Z" fill="none" stroke="#0070C0" stroke-width="1.2" stroke-linejoin="miter"/>
<path d="M636.08 141.47L639.38 149.26L632.78 149.26Z" fill="none" stroke="#0070C0" stroke-width="1.2" stroke-linejoin="miter"/>
<path d="M655.25 158.07L658.55 165.86L651.95 165.86Z" fill="none" stroke="#0070C0" stroke-width="1.2" stroke-linejoin="miter"/>
<path d="M674.42 163.37L677.72 171.16L671.12 171.16Z" fill="none" stroke="#0070C0" stroke-width="1.2" stroke-linejoin="miter"/>
</g><g filter="url(#sh)">
<path d="M61.03 218.8 L80.2 191.1 L99.37 167.4 L118.54 152.2 L137.71 137.4 L156.88 123.6 L176.04 118.3 L195.21 117.2 L214.38 117.2 L233.55 111.6 L252.72 103.4 L271.88 96.7 L291.05 90.3 L310.22 88 L329.39 89.4 L348.56 90.9 L367.72 92.9 L386.89 95.3 L406.06 97.3 L425.23 98.5 L444.4 98.8 L463.57 99.1 L482.73 96.7 L501.9 94.7 L521.07 94.4 L540.24 96.1 L559.41 102.6 L578.58 108.4 L597.74 117.6 L616.91 128.5 L636.08 146.5 L655.25 162.8 L674.42 169.2" fill="none" stroke="#F24CBA" stroke-width="2.1" stroke-linejoin="round"/>
<path d="M57.43 215.2L64.63 222.4M57.43 222.4L64.63 215.2" stroke="#F24CBA" stroke-width="1.3" fill="none"/>
<path d="M76.6 187.5L83.8 194.7M76.6 194.7L83.8 187.5" stroke="#F24CBA" stroke-width="1.3" fill="none"/>
<path d="M95.77 163.8L102.97 171M95.77 171L102.97 163.8" stroke="#F24CBA" stroke-width="1.3" fill="none"/>
<path d="M114.94 148.6L122.14 155.8M114.94 155.8L122.14 148.6" stroke="#F24CBA" stroke-width="1.3" fill="none"/>
<path d="M134.11 133.8L141.31 141M134.11 141L141.31 133.8" stroke="#F24CBA" stroke-width="1.3" fill="none"/>
<path d="M153.28 120L160.47 127.2M153.28 127.2L160.47 120" stroke="#F24CBA" stroke-width="1.3" fill="none"/>
<path d="M172.44 114.7L179.64 121.9M172.44 121.9L179.64 114.7" stroke="#F24CBA" stroke-width="1.3" fill="none"/>
<path d="M191.61 113.6L198.81 120.8M191.61 120.8L198.81 113.6" stroke="#F24CBA" stroke-width="1.3" fill="none"/>
<path d="M210.78 113.6L217.98 120.8M210.78 120.8L217.98 113.6" stroke="#F24CBA" stroke-width="1.3" fill="none"/>
<path d="M229.95 108L237.15 115.2M229.95 115.2L237.15 108" stroke="#F24CBA" stroke-width="1.3" fill="none"/>
<path d="M249.12 99.8L256.32 107M249.12 107L256.32 99.8" stroke="#F24CBA" stroke-width="1.3" fill="none"/>
<path d="M268.28 93.1L275.48 100.3M268.28 100.3L275.48 93.1" stroke="#F24CBA" stroke-width="1.3" fill="none"/>
<path d="M287.45 86.7L294.65 93.9M287.45 93.9L294.65 86.7" stroke="#F24CBA" stroke-width="1.3" fill="none"/>
<path d="M306.62 84.4L313.82 91.6M306.62 91.6L313.82 84.4" stroke="#F24CBA" stroke-width="1.3" fill="none"/>
<path d="M325.79 85.8L332.99 93M325.79 93L332.99 85.8" stroke="#F24CBA" stroke-width="1.3" fill="none"/>
<path d="M344.96 87.3L352.16 94.5M344.96 94.5L352.16 87.3" stroke="#F24CBA" stroke-width="1.3" fill="none"/>
<path d="M364.12 89.3L371.32 96.5M364.12 96.5L371.32 89.3" stroke="#F24CBA" stroke-width="1.3" fill="none"/>
<path d="M383.29 91.7L390.49 98.9M383.29 98.9L390.49 91.7" stroke="#F24CBA" stroke-width="1.3" fill="none"/>
<path d="M402.46 93.7L409.66 100.9M402.46 100.9L409.66 93.7" stroke="#F24CBA" stroke-width="1.3" fill="none"/>
<path d="M421.63 94.9L428.83 102.1M421.63 102.1L428.83 94.9" stroke="#F24CBA" stroke-width="1.3" fill="none"/>
<path d="M440.8 95.2L448 102.4M440.8 102.4L448 95.2" stroke="#F24CBA" stroke-width="1.3" fill="none"/>
<path d="M459.97 95.5L467.17 102.7M459.97 102.7L467.17 95.5" stroke="#F24CBA" stroke-width="1.3" fill="none"/>
<path d="M479.13 93.1L486.33 100.3M479.13 100.3L486.33 93.1" stroke="#F24CBA" stroke-width="1.3" fill="none"/>
<path d="M498.3 91.1L505.5 98.3M498.3 98.3L505.5 91.1" stroke="#F24CBA" stroke-width="1.3" fill="none"/>
<path d="M517.47 90.8L524.67 98M517.47 98L524.67 90.8" stroke="#F24CBA" stroke-width="1.3" fill="none"/>
<path d="M536.64 92.5L543.84 99.7M536.64 99.7L543.84 92.5" stroke="#F24CBA" stroke-width="1.3" fill="none"/>
<path d="M555.81 99L563.01 106.2M555.81 106.2L563.01 99" stroke="#F24CBA" stroke-width="1.3" fill="none"/>
<path d="M574.98 104.8L582.18 112M574.98 112L582.18 104.8" stroke="#F24CBA" stroke-width="1.3" fill="none"/>
<path d="M594.14 114L601.34 121.2M594.14 121.2L601.34 114" stroke="#F24CBA" stroke-width="1.3" fill="none"/>
<path d="M613.31 124.9L620.51 132.1M613.31 132.1L620.51 124.9" stroke="#F24CBA" stroke-width="1.3" fill="none"/>
<path d="M632.48 142.9L639.68 150.1M632.48 150.1L639.68 142.9" stroke="#F24CBA" stroke-width="1.3" fill="none"/>
<path d="M651.65 159.2L658.85 166.4M651.65 166.4L658.85 159.2" stroke="#F24CBA" stroke-width="1.3" fill="none"/>
<path d="M670.82 165.6L678.02 172.8M670.82 172.8L678.02 165.6" stroke="#F24CBA" stroke-width="1.3" fill="none"/>
</g><g filter="url(#sh)">
<path d="M61.03 224.7 L80.2 199 L99.37 177.2 L118.54 164.2 L137.71 151.7 L156.88 137.6 L176.04 132.6 L195.21 129.4 L214.38 128.2 L233.55 125 L252.72 117.7 L271.88 110.7 L291.05 106.4 L310.22 105.5 L329.39 105.5 L348.56 107.8 L367.72 120.1 L386.89 111.9 L406.06 114.2 L425.23 116.9 L444.4 116 L463.57 115.7 L482.73 114.2 L501.9 110.9 L521.07 109.7 L540.24 112.1 L559.41 118 L578.58 122.5 L597.74 132.7 L616.91 147.3 L636.08 160.7 L655.25 175 L674.42 179.7" fill="none" stroke="#7030A0" stroke-width="2.1" stroke-linejoin="round"/>
<circle cx="61.03" cy="224.7" r="3.6" fill="none" stroke="#7030A0" stroke-width="1.3"/>
<circle cx="80.2" cy="199" r="3.6" fill="none" stroke="#7030A0" stroke-width="1.3"/>
<circle cx="99.37" cy="177.2" r="3.6" fill="none" stroke="#7030A0" stroke-width="1.3"/>
<circle cx="118.54" cy="164.2" r="3.6" fill="none" stroke="#7030A0" stroke-width="1.3"/>
<circle cx="137.71" cy="151.7" r="3.6" fill="none" stroke="#7030A0" stroke-width="1.3"/>
<circle cx="156.88" cy="137.6" r="3.6" fill="none" stroke="#7030A0" stroke-width="1.3"/>
<circle cx="176.04" cy="132.6" r="3.6" fill="none" stroke="#7030A0" stroke-width="1.3"/>
<circle cx="195.21" cy="129.4" r="3.6" fill="none" stroke="#7030A0" stroke-width="1.3"/>
<circle cx="214.38" cy="128.2" r="3.6" fill="none" stroke="#7030A0" stroke-width="1.3"/>
<circle cx="233.55" cy="125" r="3.6" fill="none" stroke="#7030A0" stroke-width="1.3"/>
<circle cx="252.72" cy="117.7" r="3.6" fill="none" stroke="#7030A0" stroke-width="1.3"/>
<circle cx="271.88" cy="110.7" r="3.6" fill="none" stroke="#7030A0" stroke-width="1.3"/>
<circle cx="291.05" cy="106.4" r="3.6" fill="none" stroke="#7030A0" stroke-width="1.3"/>
<circle cx="310.22" cy="105.5" r="3.6" fill="none" stroke="#7030A0" stroke-width="1.3"/>
<circle cx="329.39" cy="105.5" r="3.6" fill="none" stroke="#7030A0" stroke-width="1.3"/>
<circle cx="348.56" cy="107.8" r="3.6" fill="none" stroke="#7030A0" stroke-width="1.3"/>
<circle cx="367.72" cy="120.1" r="3.6" fill="none" stroke="#7030A0" stroke-width="1.3"/>
<circle cx="386.89" cy="111.9" r="3.6" fill="none" stroke="#7030A0" stroke-width="1.3"/>
<circle cx="406.06" cy="114.2" r="3.6" fill="none" stroke="#7030A0" stroke-width="1.3"/>
<circle cx="425.23" cy="116.9" r="3.6" fill="none" stroke="#7030A0" stroke-width="1.3"/>
<circle cx="444.4" cy="116" r="3.6" fill="none" stroke="#7030A0" stroke-width="1.3"/>
<circle cx="463.57" cy="115.7" r="3.6" fill="none" stroke="#7030A0" stroke-width="1.3"/>
<circle cx="482.73" cy="114.2" r="3.6" fill="none" stroke="#7030A0" stroke-width="1.3"/>
<circle cx="501.9" cy="110.9" r="3.6" fill="none" stroke="#7030A0" stroke-width="1.3"/>
<circle cx="521.07" cy="109.7" r="3.6" fill="none" stroke="#7030A0" stroke-width="1.3"/>
<circle cx="540.24" cy="112.1" r="3.6" fill="none" stroke="#7030A0" stroke-width="1.3"/>
<circle cx="559.41" cy="118" r="3.6" fill="none" stroke="#7030A0" stroke-width="1.3"/>
<circle cx="578.58" cy="122.5" r="3.6" fill="none" stroke="#7030A0" stroke-width="1.3"/>
<circle cx="597.74" cy="132.7" r="3.6" fill="none" stroke="#7030A0" stroke-width="1.3"/>
<circle cx="616.91" cy="147.3" r="3.6" fill="none" stroke="#7030A0" stroke-width="1.3"/>
<circle cx="636.08" cy="160.7" r="3.6" fill="none" stroke="#7030A0" stroke-width="1.3"/>
<circle cx="655.25" cy="175" r="3.6" fill="none" stroke="#7030A0" stroke-width="1.3"/>
<circle cx="674.42" cy="179.7" r="3.6" fill="none" stroke="#7030A0" stroke-width="1.3"/>
</g><g filter="url(#sh)">
<path d="M61.03 207.7 L80.2 186.7 L99.37 170.5 L118.54 158.4 L137.71 141.3 L156.88 134.7 L176.04 136.1 L195.21 136.7 L214.38 134.1 L233.55 128.8 L252.72 122.4 L271.88 118 L291.05 120.1 L310.22 122.4 L329.39 122.4 L348.56 127.4 L367.72 126.8 L386.89 126.5 L406.06 133.2 L425.23 134.1 L444.4 139.1 L463.57 136.1 L482.73 133.2 L501.9 128.2 L521.07 125.3 L540.24 127.7 L559.41 135.2 L578.58 142.8 L597.74 150.6 L616.91 164.8 L636.08 178 L655.25 190.5 L674.42 194.3" fill="none" stroke="#2AB062" stroke-width="2.1" stroke-linejoin="round"/>
<rect x="57.53" y="206" width="7" height="3.4" fill="#2AB062"/>
<rect x="76.7" y="185" width="7" height="3.4" fill="#2AB062"/>
<rect x="95.87" y="168.8" width="7" height="3.4" fill="#2AB062"/>
<rect x="115.04" y="156.7" width="7" height="3.4" fill="#2AB062"/>
<rect x="134.21" y="139.6" width="7" height="3.4" fill="#2AB062"/>
<rect x="153.38" y="133" width="7" height="3.4" fill="#2AB062"/>
<rect x="172.54" y="134.4" width="7" height="3.4" fill="#2AB062"/>
<rect x="191.71" y="135" width="7" height="3.4" fill="#2AB062"/>
<rect x="210.88" y="132.4" width="7" height="3.4" fill="#2AB062"/>
<rect x="230.05" y="127.1" width="7" height="3.4" fill="#2AB062"/>
<rect x="249.22" y="120.7" width="7" height="3.4" fill="#2AB062"/>
<rect x="268.38" y="116.3" width="7" height="3.4" fill="#2AB062"/>
<rect x="287.55" y="118.4" width="7" height="3.4" fill="#2AB062"/>
<rect x="306.72" y="120.7" width="7" height="3.4" fill="#2AB062"/>
<rect x="325.89" y="120.7" width="7" height="3.4" fill="#2AB062"/>
<rect x="345.06" y="125.7" width="7" height="3.4" fill="#2AB062"/>
<rect x="364.22" y="125.1" width="7" height="3.4" fill="#2AB062"/>
<rect x="383.39" y="124.8" width="7" height="3.4" fill="#2AB062"/>
<rect x="402.56" y="131.5" width="7" height="3.4" fill="#2AB062"/>
<rect x="421.73" y="132.4" width="7" height="3.4" fill="#2AB062"/>
<rect x="440.9" y="137.4" width="7" height="3.4" fill="#2AB062"/>
<rect x="460.07" y="134.4" width="7" height="3.4" fill="#2AB062"/>
<rect x="479.23" y="131.5" width="7" height="3.4" fill="#2AB062"/>
<rect x="498.4" y="126.5" width="7" height="3.4" fill="#2AB062"/>
<rect x="517.57" y="123.6" width="7" height="3.4" fill="#2AB062"/>
<rect x="536.74" y="126" width="7" height="3.4" fill="#2AB062"/>
<rect x="555.91" y="133.5" width="7" height="3.4" fill="#2AB062"/>
<rect x="575.08" y="141.1" width="7" height="3.4" fill="#2AB062"/>
<rect x="594.24" y="148.9" width="7" height="3.4" fill="#2AB062"/>
<rect x="613.41" y="163.1" width="7" height="3.4" fill="#2AB062"/>
<rect x="632.58" y="176.3" width="7" height="3.4" fill="#2AB062"/>
<rect x="651.75" y="188.8" width="7" height="3.4" fill="#2AB062"/>
<rect x="670.92" y="192.6" width="7" height="3.4" fill="#2AB062"/>
</g><g filter="url(#sh)">
<path d="M61.03 250.9 L80.2 248 L99.37 246 L118.54 246.6 L137.71 240.1 L156.88 241.6 L176.04 247.2 L195.21 246.6 L214.38 240.7 L233.55 238.7 L252.72 236.4 L271.88 238.7 L291.05 238.4 L310.22 240.1 L329.39 238.4 L348.56 241.6 L367.72 238.7 L386.89 242.8 L406.06 241.3 L425.23 241.6 L444.4 242.2 L463.57 242.2 L482.73 233.4 L501.9 241.8 L521.07 242.3 L540.24 244 L559.41 245.4 L578.58 245.8 L597.74 248.5 L616.91 252 L636.08 255 L655.25 258 L674.42 260.3" fill="none" stroke="#000000" stroke-width="2.1" stroke-linejoin="round"/>
<path d="M61.03 247.4L64.53 250.9L61.03 254.4L57.53 250.9Z" fill="#000000" stroke="#fff" stroke-width="0.8"/>
<path d="M80.2 244.5L83.7 248L80.2 251.5L76.7 248Z" fill="#000000" stroke="#fff" stroke-width="0.8"/>
<path d="M99.37 242.5L102.87 246L99.37 249.5L95.87 246Z" fill="#000000" stroke="#fff" stroke-width="0.8"/>
<path d="M118.54 243.1L122.04 246.6L118.54 250.1L115.04 246.6Z" fill="#000000" stroke="#fff" stroke-width="0.8"/>
<path d="M137.71 236.6L141.21 240.1L137.71 243.6L134.21 240.1Z" fill="#000000" stroke="#fff" stroke-width="0.8"/>
<path d="M156.88 238.1L160.38 241.6L156.88 245.1L153.38 241.6Z" fill="#000000" stroke="#fff" stroke-width="0.8"/>
<path d="M176.04 243.7L179.54 247.2L176.04 250.7L172.54 247.2Z" fill="#000000" stroke="#fff" stroke-width="0.8"/>
<path d="M195.21 243.1L198.71 246.6L195.21 250.1L191.71 246.6Z" fill="#000000" stroke="#fff" stroke-width="0.8"/>
<path d="M214.38 237.2L217.88 240.7L214.38 244.2L210.88 240.7Z" fill="#000000" stroke="#fff" stroke-width="0.8"/>
<path d="M233.55 235.2L237.05 238.7L233.55 242.2L230.05 238.7Z" fill="#000000" stroke="#fff" stroke-width="0.8"/>
<path d="M252.72 232.9L256.22 236.4L252.72 239.9L249.22 236.4Z" fill="#000000" stroke="#fff" stroke-width="0.8"/>
<path d="M271.88 235.2L275.38 238.7L271.88 242.2L268.38 238.7Z" fill="#000000" stroke="#fff" stroke-width="0.8"/>
<path d="M291.05 234.9L294.55 238.4L291.05 241.9L287.55 238.4Z" fill="#000000" stroke="#fff" stroke-width="0.8"/>
<path d="M310.22 236.6L313.72 240.1L310.22 243.6L306.72 240.1Z" fill="#000000" stroke="#fff" stroke-width="0.8"/>
<path d="M329.39 234.9L332.89 238.4L329.39 241.9L325.89 238.4Z" fill="#000000" stroke="#fff" stroke-width="0.8"/>
<path d="M348.56 238.1L352.06 241.6L348.56 245.1L345.06 241.6Z" fill="#000000" stroke="#fff" stroke-width="0.8"/>
<path d="M367.72 235.2L371.22 238.7L367.72 242.2L364.22 238.7Z" fill="#000000" stroke="#fff" stroke-width="0.8"/>
<path d="M386.89 239.3L390.39 242.8L386.89 246.3L383.39 242.8Z" fill="#000000" stroke="#fff" stroke-width="0.8"/>
<path d="M406.06 237.8L409.56 241.3L406.06 244.8L402.56 241.3Z" fill="#000000" stroke="#fff" stroke-width="0.8"/>
<path d="M425.23 238.1L428.73 241.6L425.23 245.1L421.73 241.6Z" fill="#000000" stroke="#fff" stroke-width="0.8"/>
<path d="M444.4 238.7L447.9 242.2L444.4 245.7L440.9 242.2Z" fill="#000000" stroke="#fff" stroke-width="0.8"/>
<path d="M463.57 238.7L467.07 242.2L463.57 245.7L460.07 242.2Z" fill="#000000" stroke="#fff" stroke-width="0.8"/>
<path d="M482.73 229.9L486.23 233.4L482.73 236.9L479.23 233.4Z" fill="#000000" stroke="#fff" stroke-width="0.8"/>
<path d="M501.9 238.3L505.4 241.8L501.9 245.3L498.4 241.8Z" fill="#000000" stroke="#fff" stroke-width="0.8"/>
<path d="M521.07 238.8L524.57 242.3L521.07 245.8L517.57 242.3Z" fill="#000000" stroke="#fff" stroke-width="0.8"/>
<path d="M540.24 240.5L543.74 244L540.24 247.5L536.74 244Z" fill="#000000" stroke="#fff" stroke-width="0.8"/>
<path d="M559.41 241.9L562.91 245.4L559.41 248.9L555.91 245.4Z" fill="#000000" stroke="#fff" stroke-width="0.8"/>
<path d="M578.58 242.3L582.08 245.8L578.58 249.3L575.08 245.8Z" fill="#000000" stroke="#fff" stroke-width="0.8"/>
<path d="M597.74 245L601.24 248.5L597.74 252L594.24 248.5Z" fill="#000000" stroke="#fff" stroke-width="0.8"/>
<path d="M616.91 248.5L620.41 252L616.91 255.5L613.41 252Z" fill="#000000" stroke="#fff" stroke-width="0.8"/>
<path d="M636.08 251.5L639.58 255L636.08 258.5L632.58 255Z" fill="#000000" stroke="#fff" stroke-width="0.8"/>
<path d="M655.25 254.5L658.75 258L655.25 261.5L651.75 258Z" fill="#000000" stroke="#fff" stroke-width="0.8"/>
<path d="M674.42 256.8L677.92 260.3L674.42 263.8L670.92 260.3Z" fill="#000000" stroke="#fff" stroke-width="0.8"/>
</g>
<line x1="49.4" y1="407.5" x2="71.9" y2="407.5" stroke="#FFC000" stroke-width="2"/>
<rect x="57.15" y="404" width="7" height="7" fill="#FFC000"/>
<text x="73.1" y="410.8" font-size="12.05" font-weight="bold" fill="#000">Glass Temperature</text>
<line x1="196.6" y1="407.5" x2="218.9" y2="407.5" stroke="#ED7D31" stroke-width="2"/>
<path d="M207.75 404.5L210.75 407.5L207.75 410.5L204.75 407.5Z" fill="#ED7D31" stroke="#fff" stroke-width="0.8"/>
<text x="219.9" y="410.8" font-size="12.05" font-weight="bold" fill="#000">Temperature of Plate 1</text>
<line x1="343.3" y1="407.5" x2="365.6" y2="407.5" stroke="#0070C0" stroke-width="2"/>
<path d="M354.45 404.15L357.6 411.58L351.3 411.58Z" fill="none" stroke="#0070C0" stroke-width="1.2" stroke-linejoin="miter"/>
<text x="367" y="410.8" font-size="12.05" font-weight="bold" fill="#000">Temperature of Plate 2</text>
<line x1="490.1" y1="407.5" x2="512.8" y2="407.5" stroke="#F24CBA" stroke-width="2"/>
<path d="M497.85 403.9L505.05 411.1M497.85 411.1L505.05 403.9" stroke="#F24CBA" stroke-width="1.3" fill="none"/>
<text x="514.1" y="410.8" font-size="12.05" font-weight="bold" fill="#000">Temperature of Plate 3</text>
<line x1="49.4" y1="426" x2="71.9" y2="426" stroke="#7030A0" stroke-width="2"/>
<circle cx="60.65" cy="426" r="3.4" fill="none" stroke="#7030A0" stroke-width="1.3"/>
<text x="73.1" y="429.3" font-size="12.05" font-weight="bold" fill="#000">Temperature of Plate 4</text>
<line x1="196.6" y1="426" x2="218.9" y2="426" stroke="#2AB062" stroke-width="2"/>
<rect x="204.75" y="424.6" width="6" height="2.8" fill="#2AB062"/>
<text x="219.9" y="429.3" font-size="12.05" font-weight="bold" fill="#000">Temperature of Plate 5</text>
<line x1="343.3" y1="426" x2="365.6" y2="426" stroke="#000000" stroke-width="2"/>
<path d="M354.45 423L357.45 426L354.45 429L351.45 426Z" fill="#000000" stroke="#fff" stroke-width="0.8"/>
<text x="367" y="429.3" font-size="12.05" font-weight="bold" fill="#000">Ambient Temperature</text>
<text x="341" y="467" font-size="16.5" text-anchor="middle" fill="#000">(c)</text>
</svg></body></html>
